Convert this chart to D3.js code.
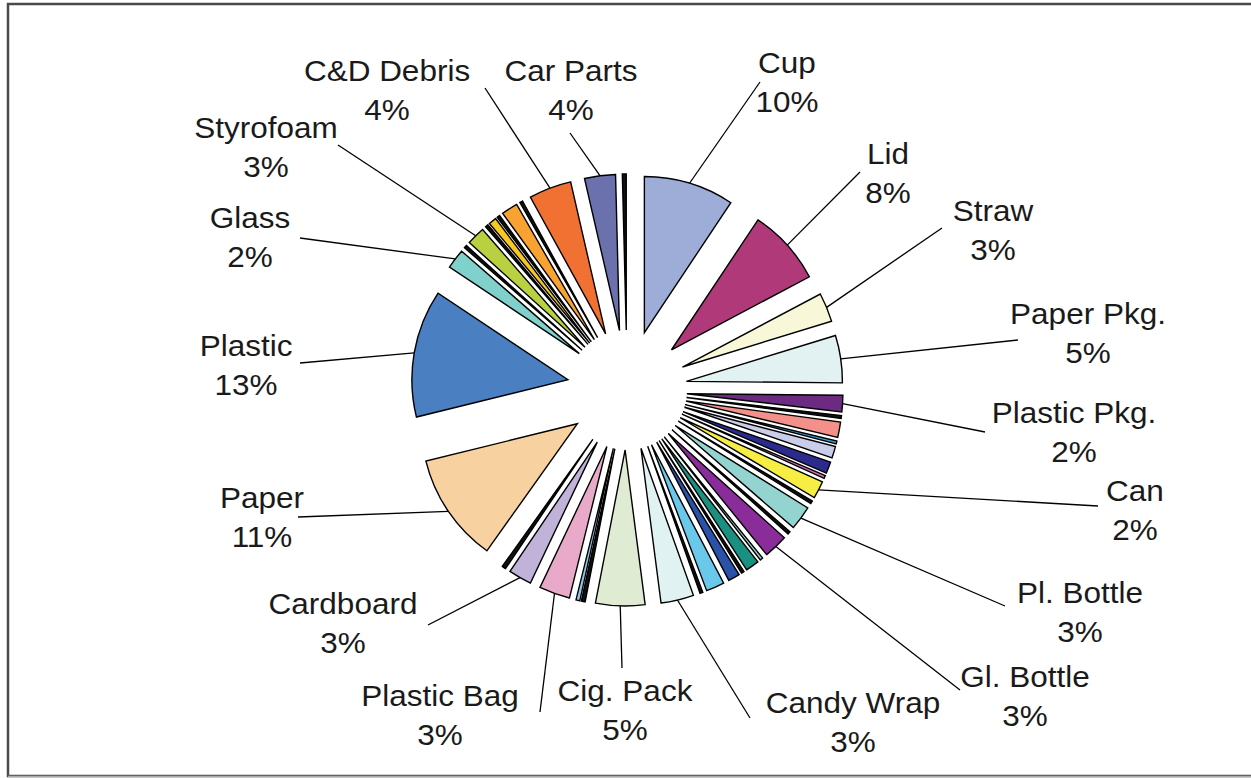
<!DOCTYPE html>
<html><head><meta charset="utf-8">
<script src="https://cdn.jsdelivr.net/npm/d3@7"></script>
<style>
html,body{margin:0;padding:0;background:#fff;}
svg{display:block;}
text{font-family:"Liberation Sans",Arial,sans-serif;fill:#1a1a1a;}
</style></head><body>
<svg id="chart" width="1251" height="778"></svg>
<script>
// ---- data (clockwise from 12 o'clock) ----
const categories = ["Cup","Lid","Straw","Paper Pkg.","Plastic Pkg.","o1","o2","o3","o4","o5","o6","Can","o7","Pl. Bottle","o8","Gl. Bottle","o9","o10","o11","o12","o13","o14","Candy Wrap","Cig. Pack","o15","o16","Plastic Bag","Cardboard","o17","Paper","Plastic","Glass","o18","Styrofoam","o19","o20","o21","o22","o23","C&D Debris","Car Parts","o24"];
const values = [9.35,7.9,3.0,4.9,1.7,0.3,1.6,0.3,1.2,1.2,0.3,1.8,0.3,2.5,0.3,2.5,0.3,1.4,0.3,1.2,1.9,0.3,3.4,5.1,0.4,0.4,3.2,2.4,0.4,11.3,13.2,2.05,0.3,1.9,0.3,0.8,0.3,1.7,0.3,4.4,3.2,0.4];
const colors = ["#9eacd8","#b0397a","#f8f8d8","#e2f1f1","#6c2a82","#111111","#f4908a","#3aa0d8","#c9cde9","#2b2b8e","#d070c0","#f6ee42","#111111","#93d4d0","#111111","#8a2c9a","#8fd0cc","#1a9080","#111111","#2a52a8","#6ac8ea","#111111","#e1f2f2","#dfebd2","#111111","#8cc8ea","#e9a9c8","#c1b2da","#111111","#f8d1a0","#4a7fc2","#80d0cc","#111111","#b9d141","#111111","#f8c820","#111111","#f8a232","#111111","#f07131","#6a71ad","#111111"];
const labelNames = ["Cup","Lid","Straw","Paper Pkg.","Plastic Pkg.","Can","Pl. Bottle","Gl. Bottle","Candy Wrap","Cig. Pack","Plastic Bag","Cardboard","Paper","Plastic","Glass","Styrofoam","C&D Debris","Car Parts"];
const labelPercents = ["10%","8%","3%","5%","2%","2%","3%","3%","3%","5%","3%","3%","11%","13%","2%","3%","4%","4%"];

// ---- layout ----
const W = 1251, H = 778;
const cx = 627, cy = 390, R = 156, explode = 60;
const fontSize = 30, lineGap = 39;
// label centre x, first-line centre y, leader start x,y
const labelLayout = {
  "Cup":[787,62,760,82],
  "Lid":[888,153,860,172],
  "Straw":[993,210,942,228],
  "Paper Pkg.":[1088,313,1018,340],
  "Plastic Pkg.":[1074,412,985,432],
  "Can":[1135,490,1098,506],
  "Pl. Bottle":[1080,592,1005,606],
  "Gl. Bottle":[1025,676,960,690],
  "Candy Wrap":[853,702,750,718],
  "Cig. Pack":[625,690,622,668],
  "Plastic Bag":[440,695,540,712],
  "Cardboard":[343,603,428,625],
  "Paper":[262,497,298,517],
  "Plastic":[246,345,300,363],
  "Glass":[250,217,300,238],
  "Styrofoam":[266,127,338,145],
  "C&D Debris":[387,70,485,88],
  "Car Parts":[571,70,570,133]
};

const svg = d3.select("#chart");
svg.append("rect").attr("x",8).attr("y",4).attr("width",W+10).attr("height",772)
  .attr("fill","#fff").attr("stroke","#4a4a4a").attr("stroke-width",2.5);
svg.append("line").attr("x1",8).attr("x2",W).attr("y1",776.5).attr("y2",776.5).attr("stroke","#aaa").attr("stroke-width",1.5);

const data = categories.map((c,i)=>({name:c,value:values[i],color:colors[i]}));
const pie = d3.pie().value(d=>d.value).sort(null).startAngle(0).endAngle(2*Math.PI);
const arcs = pie(data);
const arc = d3.arc().innerRadius(0).outerRadius(R);

const g = svg.append("g").attr("transform",`translate(${cx},${cy})`);
g.selectAll("path").data(arcs).join("path")
  .attr("d",arc)
  .attr("transform",d=>{const m=(d.startAngle+d.endAngle)/2;return `translate(${explode*Math.sin(m)},${-explode*Math.cos(m)})`;})
  .attr("fill",d=>d.data.color)
  .attr("stroke","#000").attr("stroke-width",1.4).attr("stroke-linejoin","miter");

// leader lines + labels
labelNames.forEach((name,i)=>{
  const a = arcs.find(d=>d.data.name===name);
  const m = (a.startAngle+a.endAngle)/2;
  const ex = cx + (explode+R)*Math.sin(m), ey = cy - (explode+R)*Math.cos(m);
  const L = labelLayout[name];
  svg.append("line").attr("x1",L[2]).attr("y1",L[3]).attr("x2",ex).attr("y2",ey)
    .attr("stroke","#000").attr("stroke-width",1.3);
  const t = svg.append("text").attr("text-anchor","middle").attr("font-size",fontSize)
    .attr("transform",`translate(${L[0]},${L[1]}) scale(1.05,1)`);
  t.append("tspan").attr("x",0).attr("y",fontSize*0.36).text(name);
  t.append("tspan").attr("x",0).attr("y",fontSize*0.36+lineGap).text(labelPercents[i]);
});
</script>
</body></html>
